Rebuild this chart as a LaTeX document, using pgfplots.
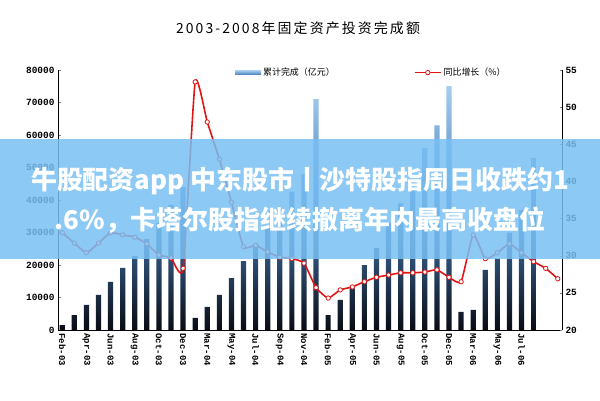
\documentclass[border=0pt]{standalone}
\usepackage{pgfplots}
\pgfplotsset{compat=1.18}
\usepackage{fontspec}
\setmainfont{Liberation Sans}
\newfontfamily\cjk{Noto Sans CJK SC}
\newfontfamily\cjktitle[LetterSpace=15]{Noto Sans CJK SC}
\newfontfamily\tickfont{Liberation Mono}
\definecolor{barlight}{RGB}{165,205,240}
\definecolor{barmid}{RGB}{70,125,185}
\definecolor{bardark}{RGB}{10,12,20}
\definecolor{linered}{RGB}{225,20,20}
\definecolor{bandblue}{RGB}{120,191,243}

\pgfplotstableread{
x y
1 1500
2 4600
3 7700
4 10800
5 14800
6 19100
7 22800
8 28000
9 33000
10 38500
11 44000
12 3700
13 7100
14 10800
15 16000
16 21200
17 26500
18 32000
19 37000
20 42500
21 48000
22 71000
23 4600
24 9300
25 12800
26 20000
27 25300
28 33000
29 39000
30 46000
31 56000
32 63000
33 75000
34 5600
35 6200
36 18500
37 22000
38 30000
39 37000
40 53000
}\bardata

\pgfplotstableread{
x y
1 33.1
2 31.7
3 30.4
4 31.7
5 33.1
6 32.8
7 32.5
8 31.6
9 30.1
10 29.7
11 28.3
12 53.4
13 48.0
14 43.0
15 37.2
16 31.2
17 31.4
18 30.5
19 29.8
20 29.6
21 29.0
22 25.7
23 24.3
24 25.4
25 25.8
26 26.5
27 27.1
28 27.4
29 27.7
30 27.7
31 27.8
32 28.1
33 27.1
34 26.5
35 32.8
36 29.6
37 30.4
38 31.6
39 30.4
40 29.2
41 28.3
42 26.9
}\linedata

\begin{document}
\begin{tikzpicture}[x=1bp,y=1bp]
\path[use as bounding box] (0,0) rectangle (600,400);
\begin{axis}[
  at={(58bp,70bp)}, anchor=south west,
  scale only axis, width=504bp, height=260bp,
  xmin=0.65, xmax=42.35,
  ymin=0, ymax=80000,
  axis x line*=bottom, axis y line*=left,
  axis line style={black, line width=0.8pt, -},
  ytick={0,10000,...,80000},
  scaled y ticks=false,
  yticklabel style={/pgf/number format/fixed, /pgf/number format/1000 sep={}, font=\tickfont\bfseries\fontsize{9.5}{10}\selectfont},
  /pgf/number format/assume math mode=true,
  tick align=inside, major tick length=2.5bp,
  xtick={1,3,...,39},
  xticklabels={Feb-03,Apr-03,Jun-03,Aug-03,Oct-03,Dec-03,Mar-04,May-04,Jul-04,Sep-04,Nov-04,Feb-05,Apr-05,Jun-05,Aug-05,Oct-05,Dec-05,Mar-06,May-06,Jul-06},
  xtick style={draw=none},
  xticklabel style={rotate=-90, anchor=west, font=\tickfont\bfseries\fontsize{9}{10}\selectfont},
  legend style={at={(0.345,0.99)}, anchor=west, draw=none, fill=none, font=\cjk\fontsize{9}{10}\selectfont},
  legend image code/.code={\fill[top color=barlight, bottom color=barmid] (0bp,-2.2bp) rectangle (26bp,2.2bp);},
  clip=false,
]
\addplot[ybar, bar width=5.2bp, draw=none, top color=barlight, bottom color=bardark, middle color=barmid] table[x=x,y=y] {\bardata};
\addlegendentry{累计完成（亿元）}
\end{axis}
\begin{axis}[
  at={(58bp,70bp)}, anchor=south west,
  scale only axis, width=504bp, height=260bp,
  xmin=0.65, xmax=42.35,
  ymin=20, ymax=55,
  axis x line=none, axis y line*=right,
  axis line style={black, line width=0.8pt, -},
  ytick={20,25,...,55},
  yticklabel style={font=\tickfont\bfseries\fontsize{9.5}{10}\selectfont},
  /pgf/number format/assume math mode=true,
  tick align=inside, major tick length=2.5bp,
  legend style={at={(0.7,0.99)}, anchor=west, draw=none, fill=none, font=\cjk\fontsize{9}{10}\selectfont},
  legend image code/.code={\draw[linered, line width=1.6pt] (0bp,0bp) -- (26bp,0bp); \draw[linered, line width=0.8pt, fill=white] (13bp,0bp) circle (2.2bp);},
  clip=false,
]
\addplot[linered, line width=1.6pt, smooth, tension=0.3, mark=*, mark size=2.2bp, mark options={fill=white, draw=linered, line width=0.8pt}] table[x=x,y=y] {\linedata};
\addlegendentry{同比增长（\%）}
\end{axis}
\node at (298,372) {\cjktitle\fontsize{14}{16}\selectfont 2003-2008年固定资产投资完成额};
\fill[bandblue, opacity=0.85] (0,141) rectangle (600,261);
\node[text=white, align=center, font=\cjk\bfseries\fontsize{26}{40}\selectfont] at (300,200) {牛股配资app 中东股市丨沙特股指周日收跌约1\\.6\%，卡塔尔股指继续撤离年内最高收盘位};
\end{tikzpicture}
\end{document}
